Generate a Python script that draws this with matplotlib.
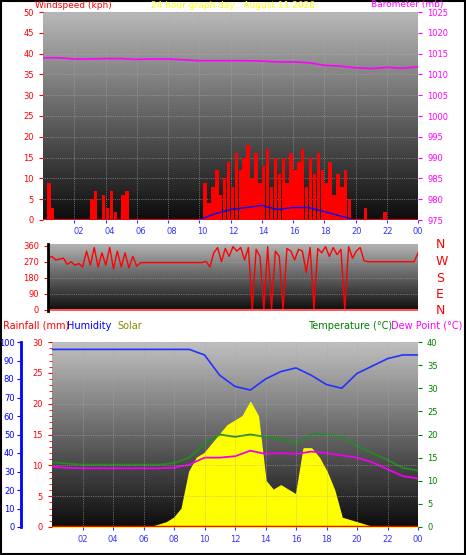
import matplotlib
matplotlib.use("Agg")
import matplotlib.pyplot as plt
import numpy as np
from matplotlib.patches import Rectangle

q = np.arange(96) * 0.25
hours = np.arange(25)
half = np.arange(49) * 0.5

gust = [0,9,3,0, 0,0,0,0, 0,0,0,0, 5,7,0,6, 3,7,2,0, 6,7,0,0,
        0,0,0,0, 0,0,0,0, 0,0,0,0, 0,0,0,0, 0,9,4,8, 12,6,10,14,
        8,16,12,15, 18,10,16,9, 13,17,8,15, 11,15,9,16, 12,14,17,8, 15,11,16,12,
        9,14,6,11, 8,12,5,0, 0,0,3,0, 0,0,0,2, 0,0,0,0, 0,0,0,0]
mean_wind = [0,0,0,0,0,0,0,0,0,0,0,1.5,2.5,3,3.5,2.5,3,3,2,1,0,0,0,0,0]
baro = [1014,1014,1013.7,1013.7,1013.8,1013.8,1013.6,1013.7,1013.7,1013.5,1013.3,1013.3,
        1013.3,1013.3,1013.2,1013,1013,1012.8,1012.2,1012,1011.6,1011.4,1011.7,1011.5,1011.8]
wdir = [290,300,280,285, 290,255,270,250, 260,240,330,250, 350,240,320,250, 350,230,330,240,
        320,235,300,245, 265,265,265,265, 265,265,265,265, 265,265,265,265, 265,265,265,265,
        265,272,240,320, 350,270,345,300, 355,330,350,280, 350,0,340,300, 0,355,0,330,
        300,0,345,330, 280,340,330,210, 350,0,345,320, 355,300,350,310, 340,0,355,290,
        330,350,275,270, 270,270,270,270, 270,270,270,270, 270,270,270,270]
humidity = [96,96,96,96,96,96,96,96,96,96,93,82,76,74,80,84,86,82,77,75,83,87,91,93,93]
temp = [14,13.7,13.5,13.5,13.5,13.5,13.5,13.5,13.8,15,18,20,19.5,20,19.5,19,18,20,20,19.5,17.5,16,14.5,12.8,12.2]
dew = [13,12.8,12.7,12.7,12.7,12.7,12.7,12.7,12.8,13.5,15,15,15.3,16.5,15.8,16,15.8,16.3,16,15.5,15,14,12.5,11,10.5]
solar = [0]*14 + [0.5,1,2,4,12,15,16,18,20,22,23,24,27,24,10,8,9,8,7,17,17,15,12,8,2,1.5,1,0.5] + [0]*7
rain = [0]*25
xticks = list(range(2, 25, 2))
xlabels = ["02","04","06","08","10","12","14","16","18","20","22","00"]

W, H = 466, 555
fig = plt.figure(figsize=(W/100, H/100), dpi=100)
fig.patch.set_facecolor("white")
fig.patches.append(Rectangle((0.002, 0.002), 0.996, 0.996, transform=fig.transFigure,
                             fill=False, ec="black", lw=1.5))
fs = 6

def rect(x0, y0, x1, y1):
    return [x0/W, 1-y1/H, (x1-x0)/W, (y1-y0)/H]

def bg(r, top, bot):
    b = fig.add_axes(r, zorder=0)
    g = np.linspace(top, bot, 100).reshape(-1, 1)
    b.imshow(np.dstack([g, g, g]), extent=[0, 1, 0, 1], aspect="auto")
    b.set_xlim(0, 1); b.set_ylim(0, 1); b.axis("off")

def frame(r):
    a = fig.add_axes(r, zorder=1)
    a.patch.set_visible(False)
    return a

def style(ax, lcol, xlab=True):
    ax.set_xlim(0, 24)
    ax.set_xticks(xticks)
    ax.set_xticklabels(xlabels if xlab else [], color="#3333ff", fontsize=fs)
    ax.tick_params(axis="x", length=2, color="#3333ff")
    ax.tick_params(axis="y", colors=lcol, labelsize=fs, length=3)
    ax.grid(True, color="#aaaaaa", lw=0.5, ls=":")
    for s in ax.spines.values():
        s.set_visible(False)

# Panel 1
r1 = rect(43, 12, 418, 220)
bg(r1, 0.72, 0.05)
a1 = frame(r1)
style(a1, "red", xlab=False)
a1.set_ylim(0, 50)
a1.set_yticks(range(0, 51, 5))
a1.bar(q + 0.125, gust, width=0.22, color="red", zorder=2)
a1.plot(hours, mean_wind, color="#0000ff", lw=1, zorder=3)
a1.axhline(0, color="red", lw=2, zorder=3)
b1 = a1.twinx()
b1.set_ylim(975, 1025)
b1.set_yticks(range(975, 1026, 5))
b1.tick_params(axis="y", colors="magenta", labelsize=fs, length=3)
for s in b1.spines.values():
    s.set_visible(False)
b1.plot(hours, baro, color="magenta", lw=1.2)
fig.text(35/W, 1-5/H, "Windspeed (kph)", color="red", fontsize=6.5, va="center")
fig.text(0.5, 1-5/H, "24 hour graph day : August 11 2026", color="yellow", fontsize=6.5,
         va="center", ha="center")
fig.text(443/W, 1-5/H, "Barometer (mb)", color="magenta", fontsize=6.5, va="center", ha="right")

# Panel 2
r2 = rect(48, 244, 418, 311)
bg(r2, 0.7, 0.05)
a2 = frame(r2)
a2.set_xlim(0, 24)
a2.set_xticks(xticks)
a2.set_xticklabels(xlabels, color="#3333ff", fontsize=fs)
a2.xaxis.set_ticks_position("top")
a2.tick_params(axis="x", length=0, pad=6)
a2.tick_params(axis="y", colors="red", labelsize=fs, length=3)
a2.grid(True, axis="y", color="#aaaaaa", lw=0.5, ls=":")
for s in a2.spines.values():
    s.set_visible(False)
a2.spines["left"].set_visible(True)
a2.spines["left"].set_color("black")
a2.spines["left"].set_linewidth(2)
a2.set_ylim(-8, 370)
a2.set_yticks([0, 90, 180, 270, 360])
a2.plot(list(q) + [24], wdir + [320], color="red", lw=1)
a2.axhline(0, color="#ff5555", lw=1.5)
for i, c in enumerate(["N", "W", "S", "E", "N"]):
    fig.text(436/W, 1-(245 + i*16.5)/H, c, color="red", fontsize=9, va="center")

# Panel 3
r3 = rect(52, 342, 418, 527)
bg(r3, 0.75, 0.05)
t3 = frame(r3)
t3.set_xlim(0, 24)
t3.set_ylim(0, 40)
t3.set_xticks([])
t3.yaxis.tick_right()
t3.set_yticks(range(0, 41, 5))
t3.tick_params(axis="y", colors="green", labelsize=fs, length=3)
for s in t3.spines.values():
    s.set_visible(False)
t3.fill_between(half, solar, color="yellow", zorder=1)
t3.plot(hours, temp, color="#228b22", lw=1.3, zorder=3)
t3.plot(hours, dew, color="#ee00ee", lw=1.3, zorder=3)
a3 = fig.add_axes(r3, zorder=2)
a3.patch.set_visible(False)
style(a3, "red")
a3.set_ylim(0, 30)
a3.set_yticks(range(0, 31, 5))
a3.yaxis.set_minor_locator(matplotlib.ticker.MultipleLocator(1))
a3.tick_params(axis="y", which="minor", colors="red", length=2)
a3.plot(hours, rain, color="red", lw=2.5, zorder=4)
h3 = fig.add_axes(r3, zorder=3)
h3.patch.set_visible(False)
h3.set_xlim(0, 24); h3.set_xticks([])
h3.set_ylim(0, 100)
h3.set_yticks(range(0, 101, 10))
h3.spines["left"].set_position(("outward", 22))
for s in ["right", "top", "bottom"]:
    h3.spines[s].set_visible(False)
h3.spines["left"].set_color("blue")
h3.spines["left"].set_linewidth(2)
h3.tick_params(axis="y", colors="blue", labelsize=fs, length=3, pad=2)
h3.plot(hours, humidity, color="#2233ff", lw=1.2, zorder=5)
ty = 1-326/H
fig.text(3/W, ty, "Rainfall (mm)", color="red", fontsize=7, va="center")
fig.text(67/W, ty, "Humidity", color="blue", fontsize=7, va="center")
fig.text(117/W, ty, "Solar", color="#8b8b00", fontsize=7, va="center")
fig.text(392/W, ty, "Temperature (°C)", color="green", fontsize=7, va="center", ha="right")
fig.text(462/W, ty, "Dew Point (°C)", color="magenta", fontsize=7, va="center", ha="right")

fig.savefig("out.png", dpi=100)
